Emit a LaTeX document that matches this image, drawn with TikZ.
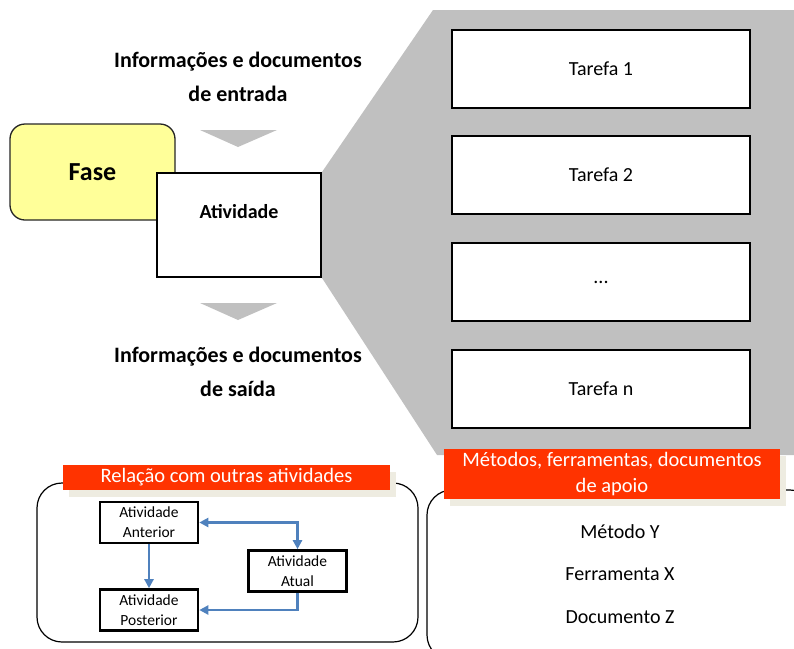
\documentclass[tikz,border=0pt]{standalone}
\usepackage{fontspec}
\setmainfont{Carlito}
\usetikzlibrary{positioning,arrows.meta,shadows}
\definecolor{faseamarelo}{HTML}{FFFF99}
\definecolor{faixavermelha}{HTML}{FF3300}
\definecolor{faixasombra}{HTML}{EEECE1}
\definecolor{setaazul}{HTML}{4F81BD}
\definecolor{fundocinza}{HTML}{C0C0C0}
\tikzset{
  titulo/.style={font=\bfseries\fontsize{22}{34}\selectfont, align=center},
  tarefa/.style={draw, line width=2pt, fill=white, minimum width=298pt, minimum height=78pt, font=\fontsize{20}{24}\selectfont},
  caixinha/.style={draw, line width=2.6pt, fill=white, minimum width=98pt, minimum height=41pt, inner sep=0pt, align=center, font=\fontsize{15.5}{20}\selectfont},
  faixa/.style={fill=faixavermelha, text=white, align=center, inner sep=0pt, font=\fontsize{20.5}{26}\selectfont,
    drop shadow={shadow xshift=6pt, shadow yshift=-7pt, fill=faixasombra, opacity=1}},
  apoio/.style={font=\fontsize{20}{24}\selectfont},
  seta/.style={draw=setaazul, line width=2.4pt, -{Triangle[length=9pt,width=9pt]}},
  marcador/.style={fill=fundocinza}
}
\begin{document}
\begin{tikzpicture}[x=1pt,y=-1pt]
  \useasboundingbox (0,0) rectangle (794,648);
  \clip (0,0) rectangle (794,648);

  % fase e atividade
  \node[draw=black!85, line width=1.3pt, fill=faseamarelo, rounded corners=15pt, minimum width=165pt, minimum height=96pt,
    font=\bfseries\fontsize{26}{30}\selectfont] (fase) at (92.5,172) {Fase};
  \node[draw, line width=2pt, fill=white, minimum width=164pt, minimum height=104pt] (atv) at (239,225) {};
  \node[font=\bfseries\fontsize{20}{24}\selectfont] (atvtxt) at (239,212) {Atividade};

  % entradas e saidas
  \node[titulo] (entrada) at (238,77) {Informações e documentos\\de entrada};
  \node[titulo] (saida) at (238,372) {Informações e documentos\\de saída};
  \fill[marcador] (200,130) -- (277,130) -- (238,147) -- cycle;
  \fill[marcador] (200,303) -- (277,303) -- (238,320) -- cycle;

  % detalhe das tarefas
  \fill[marcador] (atv.north east) -- (433,10) -- (794,10) -- (794,455) -- (437,455) -- (atv.south east) -- cycle;
  \node[tarefa] (t1) at (601,69) {Tarefa 1};
  \node[tarefa] (t2) at (601,175) {Tarefa 2};
  \node[tarefa] (t3) at (601,282) {...};
  \node[tarefa] (tn) at (601,389) {Tarefa n};

  % relacao com outras atividades
  \draw[line width=1.2pt, rounded corners=25pt] (37,483) rectangle (418,642);
  \node[faixa, minimum width=327pt, minimum height=25pt] (rel) at (226.5,477.5) {Relação com outras atividades};
  \node[caixinha] (ant) at (149,522.5) {Atividade\\Anterior};
  \node[caixinha] (atual) at (297.5,571) {Atividade\\Atual};
  \node[caixinha] (post) at (149,610) {Atividade\\Posterior};
  \draw[seta] (ant) -- (post);
  \draw[seta] (atual.south) |- (post.east);
  \draw[seta, {Triangle[length=9pt,width=9pt]}-{Triangle[length=9pt,width=9pt]}] (ant.east) -| (atual.north);

  % metodos e ferramentas
  \draw[line width=1.2pt, rounded corners=25pt] (427,490) rectangle (815,660);
  \node[faixa, minimum width=336pt, minimum height=50pt] (met) at (612,474) {Métodos, ferramentas, documentos\\de apoio};
  \node[apoio] (my) at (620,532) {Método Y};
  \node[apoio] (fx) at (620,574) {Ferramenta X};
  \node[apoio] (dz) at (620,617) {Documento Z};
\end{tikzpicture}
\end{document}
